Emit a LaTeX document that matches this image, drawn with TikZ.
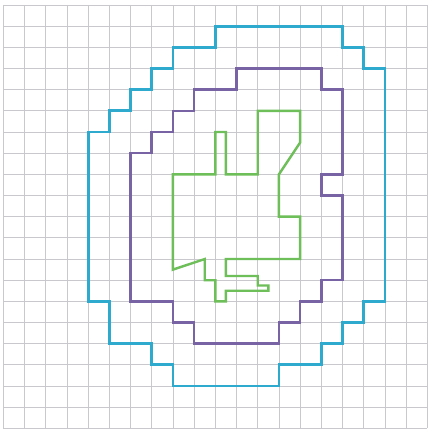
\documentclass[tikz,border=0pt]{standalone}
\definecolor{gridgray}{RGB}{200,200,205}
\definecolor{outerblue}{RGB}{45,170,205}
\definecolor{midpurple}{RGB}{120,100,165}
\definecolor{innergreen}{RGB}{110,190,90}
\begin{document}
\begin{tikzpicture}[x=21.2pt,y=-21.17pt,
  gridline/.style={draw=gridgray,line width=0.8pt},
  outline/.style={line width=2.8pt,line join=miter},
  blueline/.style={outline,draw=outerblue},
  purpleline/.style={outline,draw=midpurple,line width=2.5pt},
  greenline/.style={outline,draw=innergreen,line width=2.4pt}]
\useasboundingbox[fill=white] (-0.156,-0.236) rectangle (20.033,20.076);
\foreach \i in {0,...,20} {
  \draw[gridline] (\i,0) -- (\i,20);
  \draw[gridline] (0,\i) -- (20,\i);
}
\draw[blueline] (8,2) -- (10,2) -- (10,1) -- (16,1) -- (16,2) -- (17,2) -- (17,3) -- (18,3)
  -- (18,14) -- (17,14) -- (17,15) -- (16,15) -- (16,16) -- (15,16) -- (15,17) -- (13,17)
  -- (13,18) -- (8,18) -- (8,17) -- (7,17) -- (7,16) -- (5,16) -- (5,14) -- (4,14)
  -- (4,6) -- (5,6) -- (5,5) -- (6,5) -- (6,4) -- (7,4) -- (7,3) -- (8,3) -- cycle;
\draw[purpleline] (9,4) -- (11,4) -- (11,3) -- (15,3) -- (15,4) -- (16,4) -- (16,8) -- (15,8)
  -- (15,9) -- (16,9) -- (16,13) -- (15,13) -- (15,14) -- (14,14) -- (14,15) -- (13,15)
  -- (13,16) -- (9,16) -- (9,15) -- (8,15) -- (8,14) -- (6,14) -- (6,7) -- (7,7)
  -- (7,6) -- (8,6) -- (8,5) -- (9,5) -- cycle;
\draw[greenline] (12,5) -- (14,5) -- (14,6.5) -- (13,8) -- (13,10) -- (14,10) -- (14,12)
  -- (10.5,12) -- (10.5,12.8) -- (12,12.8) -- (12,13.25) -- (12.5,13.25) -- (12.5,13.5)
  -- (10.5,13.5) -- (10.5,14) -- (10,14) -- (10,13) -- (9.5,13) -- (9.5,12) -- (8,12.5)
  -- (8,8) -- (10,8) -- (10,6) -- (10.5,6) -- (10.5,8) -- (12,8) -- cycle;
\end{tikzpicture}
\end{document}
